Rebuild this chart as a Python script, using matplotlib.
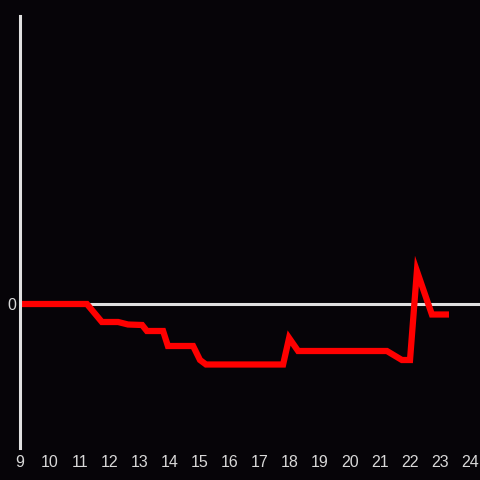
import matplotlib
matplotlib.use("Agg")
import matplotlib.pyplot as plt

plt.rcParams["font.family"] = ["Liberation Sans", "DejaVu Sans"]

# hour of day vs value (zero = baseline)
hours = [9.0, 11.23, 11.73, 12.27, 12.6, 13.07, 13.23, 13.77, 13.93, 14.77,
         15.0, 15.2, 17.77, 17.97, 18.27, 21.23, 21.73, 22.0, 22.23, 22.73, 23.3]
values = [0.0, 0.0, -1.8, -1.8, -2.05, -2.1, -2.7, -2.7, -4.2, -4.2,
          -5.6, -6.05, -6.05, -3.4, -4.7, -4.7, -5.6, -5.6, 3.3, -1.05, -1.05]
xticks = list(range(9, 25))
yticks = [0]

bg = "#060408"
fg = "#e0e0e0"

fig = plt.figure(figsize=(4.8, 4.8), dpi=100, facecolor=bg)
ax = fig.add_axes([20/480, 32/480, 460/480, 432/480], facecolor=bg)

ax.axhline(0, color=fg, lw=2.2, zorder=1)
ax.plot(hours, values, color="#ff0000", lw=4.5, solid_joinstyle="miter",
        solid_capstyle="butt", zorder=2)

ax.set_xlim(9, 24.333)
ax.set_ylim(-14.4, 28.8)
ax.set_xticks(xticks)
ax.set_yticks(yticks)
ax.tick_params(length=0, colors="#d8d8d8", labelsize=11.5, pad=5)
ax.tick_params(axis="y", pad=3)
for s in ["top", "right", "bottom"]:
    ax.spines[s].set_visible(False)
ax.spines["left"].set_color(fg)
ax.spines["left"].set_linewidth(2.2)

fig.savefig("out.png", dpi=100, facecolor=bg)
